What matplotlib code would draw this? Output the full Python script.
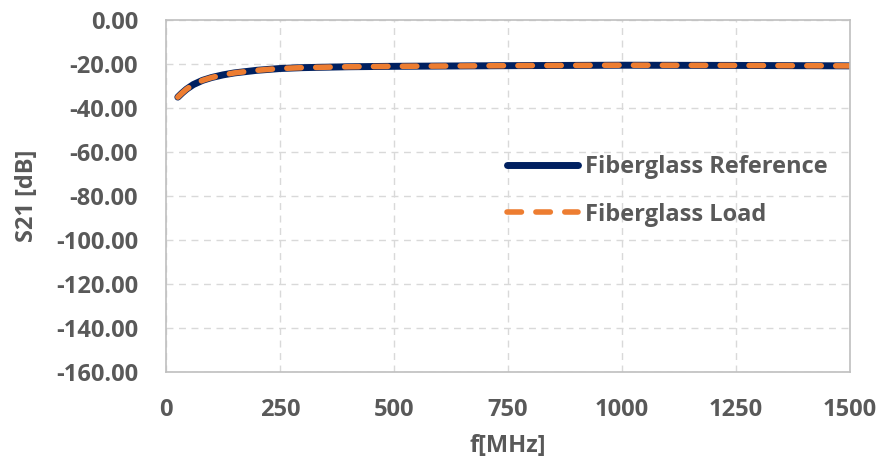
import numpy as np
import matplotlib.pyplot as plt

# frequency points (MHz) and S21 readings (dB)
freq = [26, 35, 45, 60, 80, 100, 125, 150, 200, 250, 300, 400, 500, 750, 1000, 1250, 1500]
s21_reference = [-35.0, -33.2, -31.4, -29.3, -27.4, -26.1, -24.9, -24.0, -22.8, -22.0, -21.6, -21.2, -21.0, -20.7, -20.5, -20.6, -20.8]
s21_load = [-35.0, -33.2, -31.4, -29.3, -27.4, -26.1, -24.9, -24.0, -22.8, -22.0, -21.6, -21.2, -21.0, -20.7, -20.5, -20.6, -20.8]

x_ticks = [0, 250, 500, 750, 1000, 1250, 1500]
y_ticks = [0, -20, -40, -60, -80, -100, -120, -140, -160]

gray_text = '#595959'
plt.rcParams['font.family'] = ['Open Sans', 'DejaVu Sans']

fig = plt.figure(figsize=(8.8, 4.68), dpi=100)
ax = fig.add_axes([0.1886, 0.205, 0.7773, 0.752])

ax.plot(freq, s21_reference, color='#002060', lw=5.0, solid_capstyle='round',
        label='Fiberglass Reference')
line, = ax.plot(freq, s21_load, color='#ED7D31', lw=4.0, dash_capstyle='round',
                label='Fiberglass Load')
line.set_dashes((2.6, 2.6))

ax.set_xlim(0, 1500)
ax.set_ylim(-160, 0)
ax.set_xticks(x_ticks)
ax.set_yticks(y_ticks)
ax.set_yticklabels(['%.2f' % v for v in y_ticks])
ax.tick_params(length=0, labelsize=17, labelcolor=gray_text)
ax.tick_params(axis='x', pad=19)
ax.tick_params(axis='y', pad=20)
for lab in ax.get_xticklabels() + ax.get_yticklabels():
    lab.set_fontweight('bold')

ax.grid(True, color='#D9D9D9', linestyle=(0, (5, 4)), lw=1.0)
ax.set_axisbelow(True)
for side in ['left', 'right', 'top', 'bottom']:
    ax.spines[side].set_color('#BFBFBF')
    ax.spines[side].set_linewidth(1.2)

ax.set_xlabel('f[MHz]', fontsize=17, fontweight='bold', color=gray_text, labelpad=8)
ax.set_ylabel('S21 [dB]', fontsize=17, fontweight='bold', color=gray_text, labelpad=12)

leg = ax.legend(loc='center left', bbox_to_anchor=(0.468, 0.515), frameon=False,
                handlelength=3.0, labelspacing=1.0, handletextpad=0.3,
                prop={'size': 17, 'weight': 'bold'})
for t in leg.get_texts():
    t.set_color(gray_text)

fig.savefig('out.png', dpi=100)
